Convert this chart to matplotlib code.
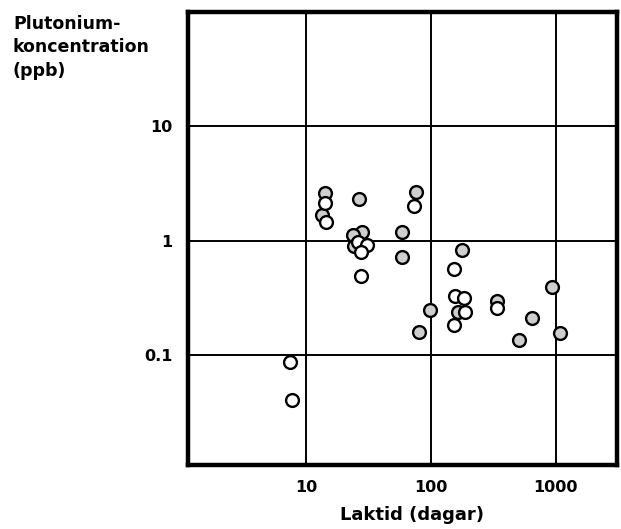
import matplotlib
matplotlib.use("Agg")
import matplotlib.pyplot as plt

# Data: lag time (days) vs plutonium concentration (ppb)
# grey-stippled markers
days_grey = [14.2, 13.5, 26.7, 76.6, 58.7, 58.7, 28.0, 23.7, 24.4, 99, 178, 940, 336, 165, 650, 81, 1085, 507]
conc_grey = [2.59, 1.66, 2.29, 2.68, 1.20, 0.716, 1.20, 1.12, 0.89, 0.25, 0.83, 0.39, 0.295, 0.239, 0.212, 0.158, 0.156, 0.137]
# open (white) markers
days_open = [7.4, 7.7, 14.2, 14.5, 73.6, 27.7, 26.0, 31.0, 27.7, 152, 157, 183, 336, 189, 152]
conc_open = [0.088, 0.041, 2.11, 1.45, 2.00, 0.49, 0.97, 0.92, 0.79, 0.57, 0.326, 0.315, 0.256, 0.239, 0.183]

xticks = [10, 100, 1000]
xticklabels = ["10", "100", "1000"]
yticks = [0.1, 1, 10]
yticklabels = ["0.1", "1", "10"]

W, H = 621, 529
fig = plt.figure(figsize=(W / 100, H / 100), dpi=100)
L, R, T, B = 188, 617, 12, 465
ax = fig.add_axes([L / W, 1 - B / H, (R - L) / W, (B - T) / H])
ax.set_xscale("log")
ax.set_yscale("log")
ax.set_xlim(1.135, 3100)
ax.set_ylim(0.011, 99)

font = "DejaVu Sans"
ax.set_xticks(xticks)
ax.set_xticklabels(xticklabels, fontsize=11.5, fontweight="bold", family=font)
ax.set_yticks(yticks)
ax.set_yticklabels(yticklabels, fontsize=11.5, fontweight="bold", family=font)
ax.minorticks_off()
ax.tick_params(length=0, pad=11)
ax.grid(True, which="major", color="black", linewidth=1.4)
ax.set_axisbelow(True)
for s in ax.spines.values():
    s.set_linewidth(3.2)
    s.set_color("black")

ax.scatter(days_grey, conc_grey, s=85, facecolor="#cecece", edgecolor="black", linewidths=1.7, zorder=3)
ax.scatter(days_open, conc_open, s=85, facecolor="white", edgecolor="black", linewidths=1.7, zorder=3)

fig.text(13 / W, 1 - 15 / H, "Plutonium-\nkoncentration\n(ppb)", ha="left", va="top",
         fontsize=12.5, fontweight="bold", family=font, linespacing=1.38)
fig.text(412 / W, 1 - 515 / H, "Laktid (dagar)", ha="center", va="center",
         fontsize=13, fontweight="bold", family=font)

fig.savefig("out.png", dpi=100)
